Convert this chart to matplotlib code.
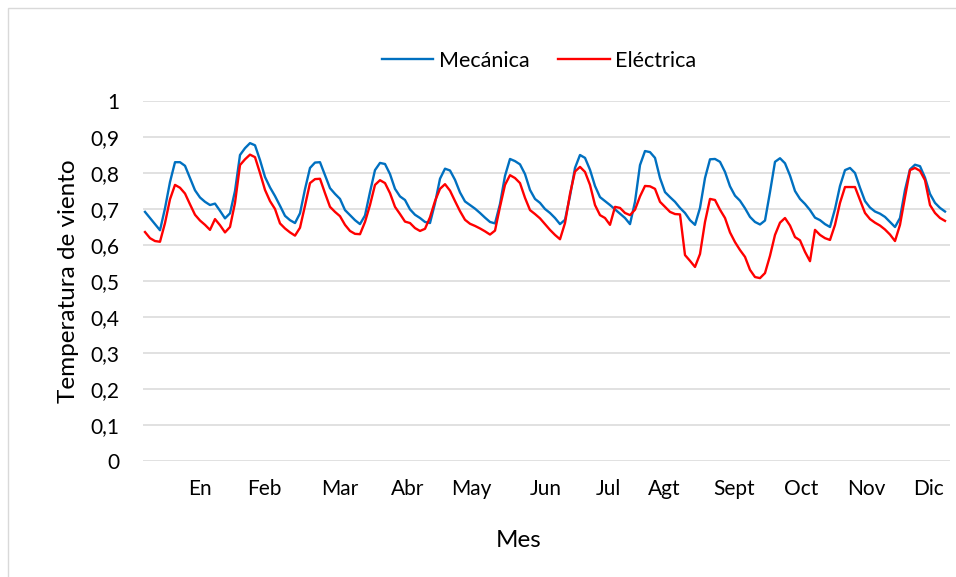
import numpy as np
import matplotlib.pyplot as plt
from matplotlib.ticker import FuncFormatter, MultipleLocator
from matplotlib.patches import Rectangle

plt.rcParams['font.family'] = ['Lato', 'DejaVu Sans']

# values, one sample every ~5 px along the x axis
mecanica = [
    0.692, 0.675, 0.658, 0.641, 0.702, 0.775, 0.830, 0.830, 0.820, 0.786,
    0.752, 0.732, 0.720, 0.711, 0.715, 0.695, 0.674, 0.688, 0.750, 0.850,
    0.869, 0.883, 0.877, 0.836, 0.789, 0.760, 0.736, 0.709, 0.681, 0.669,
    0.661, 0.688, 0.755, 0.814, 0.829, 0.830, 0.794, 0.758, 0.742, 0.728,
    0.697, 0.683, 0.669, 0.658, 0.682, 0.747, 0.808, 0.828, 0.825, 0.797,
    0.756, 0.735, 0.725, 0.699, 0.684, 0.675, 0.664, 0.661, 0.716, 0.784,
    0.812, 0.807, 0.781, 0.746, 0.721, 0.711, 0.701, 0.689, 0.676, 0.664,
    0.660, 0.714, 0.792, 0.839, 0.833, 0.824, 0.797, 0.753, 0.728, 0.717,
    0.700, 0.689, 0.675, 0.658, 0.670, 0.736, 0.814, 0.850, 0.842, 0.809,
    0.764, 0.733, 0.722, 0.711, 0.699, 0.687, 0.675, 0.658, 0.720, 0.822,
    0.861, 0.858, 0.842, 0.786, 0.747, 0.733, 0.720, 0.703, 0.689, 0.669,
    0.656, 0.703, 0.786, 0.838, 0.839, 0.831, 0.803, 0.763, 0.737, 0.723,
    0.702, 0.678, 0.664, 0.657, 0.668, 0.747, 0.831, 0.841, 0.827, 0.793,
    0.750, 0.728, 0.714, 0.697, 0.676, 0.669, 0.658, 0.650, 0.700, 0.764,
    0.808, 0.814, 0.800, 0.759, 0.722, 0.704, 0.693, 0.687, 0.678, 0.664,
    0.650, 0.675, 0.753, 0.810, 0.823, 0.819, 0.787, 0.742, 0.717, 0.703,
    0.693,
]

electrica = [
    0.636, 0.619, 0.611, 0.609, 0.661, 0.727, 0.767, 0.759, 0.743, 0.713,
    0.684, 0.668, 0.656, 0.642, 0.672, 0.655, 0.635, 0.650, 0.717, 0.822,
    0.838, 0.851, 0.844, 0.800, 0.753, 0.722, 0.700, 0.660, 0.646, 0.635,
    0.626, 0.648, 0.709, 0.772, 0.783, 0.784, 0.744, 0.706, 0.692, 0.680,
    0.656, 0.639, 0.631, 0.630, 0.664, 0.711, 0.767, 0.780, 0.772, 0.744,
    0.706, 0.686, 0.665, 0.661, 0.647, 0.639, 0.645, 0.677, 0.722, 0.756,
    0.769, 0.751, 0.722, 0.694, 0.670, 0.659, 0.653, 0.646, 0.638, 0.629,
    0.640, 0.706, 0.767, 0.794, 0.786, 0.772, 0.731, 0.697, 0.686, 0.674,
    0.658, 0.642, 0.628, 0.616, 0.661, 0.742, 0.804, 0.817, 0.803, 0.767,
    0.711, 0.683, 0.675, 0.656, 0.706, 0.703, 0.689, 0.683, 0.698, 0.735,
    0.764, 0.763, 0.756, 0.720, 0.706, 0.692, 0.686, 0.685, 0.572, 0.556,
    0.539, 0.575, 0.664, 0.728, 0.725, 0.698, 0.675, 0.635, 0.608, 0.586,
    0.567, 0.531, 0.511, 0.508, 0.522, 0.570, 0.628, 0.662, 0.675, 0.654,
    0.622, 0.613, 0.581, 0.555, 0.642, 0.628, 0.619, 0.614, 0.656, 0.717,
    0.761, 0.761, 0.761, 0.725, 0.689, 0.672, 0.662, 0.654, 0.643, 0.629,
    0.611, 0.656, 0.733, 0.808, 0.814, 0.806, 0.780, 0.711, 0.689, 0.675,
    0.667,
]

meses = ["En", "Feb", "Mar", "Abr", "May", "Jun", "Jul", "Agt", "Sept", "Oct", "Nov", "Dic"]
mes_pos = [11, 23.8, 39, 52.6, 65.2, 80.2, 92.6, 103.8, 117.8, 131.2, 144.2, 156.8]

x = np.arange(len(mecanica))

fig = plt.figure(figsize=(9.56, 5.77), dpi=100)
ax = fig.add_axes([143 / 956, 1 - 461 / 577, 807 / 956, 360 / 577])

ax.plot(x, mecanica, color="#0070C0", lw=1.7, label="Mecánica")
ax.plot(x, electrica, color="#FF0000", lw=1.7, label="Eléctrica")

ax.set_xlim(-0.4, 161)
ax.set_ylim(0, 1)
ax.yaxis.set_major_locator(MultipleLocator(0.1))
ax.yaxis.set_major_formatter(FuncFormatter(lambda v, p: f"{v:.1f}".replace(".", ",") if 0 < round(v, 2) < 1 else f"{v:.0f}"))
ax.set_xticks(mes_pos)
ax.set_xticklabels(meses)
ax.tick_params(axis="both", length=0, labelsize=15, colors="#000000")
ax.tick_params(axis="y", pad=17)
ax.tick_params(axis="x", pad=13)
ax.grid(axis="y", color="#d9d9d9", lw=1.1)
ax.set_axisbelow(True)
for s in ax.spines.values():
    s.set_visible(False)

ax.set_xlabel("Mes", fontsize=17.5)
ax.xaxis.set_label_coords((519 - 143) / 807, (461 - 530) / 360)
ax.set_ylabel("Temperatura de viento", fontsize=17.5)
ax.yaxis.set_label_coords((79 - 143) / 807, 0.5)

fig.legend(loc="center", bbox_to_anchor=(539 / 956, 1 - 61 / 577), ncol=2, frameon=False,
           fontsize=15.5, handlelength=2.4, handletextpad=0.25, columnspacing=1.35)

fig.patches.append(Rectangle((8 / 956, -0.01), 1, 1 - 8 / 577 + 0.01, transform=fig.transFigure,
                             fill=False, edgecolor="#d9d9d9", lw=1))

fig.savefig("out.png", dpi=100)
